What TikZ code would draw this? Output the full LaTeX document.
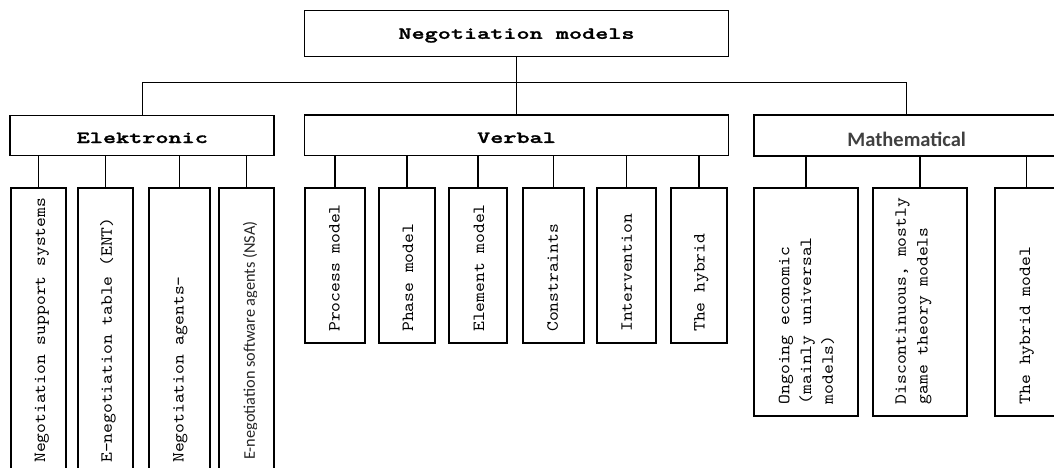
\documentclass[tikz,border=0pt]{standalone}
\usepackage{fontspec}
% typewriter faces, widened to Courier-like proportions
\newfontfamily\leaffont{lmmono10-regular}[Extension=.otf, FakeStretch=1.1]
\newfontfamily\headfont{lmmonolt10-bold}[Extension=.otf, FakeStretch=1.47, FakeBold=1.6]
\newfontfamily\calfont{Carlito}
\begin{document}
\begin{tikzpicture}[x=1pt,y=-1pt,
  box/.style={draw=black, line width=1.8pt, rectangle, inner sep=0pt, fill=white},
  link/.style={draw=black, line width=1.4pt},
  head/.style={font=\headfont\fontsize{17}{20}\selectfont, text depth=0pt},
  leaf/.style={rotate=90, anchor=west, inner sep=0pt, align=left,
    font=\leaffont\fontsize{17}{21.8}\selectfont},
  leafone/.style={leaf, text height=10.4pt, text depth=0pt},
  ebox/.style={box, minimum height=286.3pt},
  vbox/.style={box, minimum height=155pt},
  mbox/.style={box, minimum height=228pt}
]
\useasboundingbox (0,0) rectangle (1054,468);
\fill[white] (0,0) rectangle (1054,468);
\clip (0,0) rectangle (1054,468);

% root and the three families
\node[box, head, text height=10.4pt, minimum width=424pt, minimum height=46pt]
  (top) at (516.5,33.6) {Negotiation models};
\node[box, head, text height=15pt, minimum width=264pt, minimum height=40pt]
  (ele) at (142.3,135.5) {Elektronic};
\node[box, head, text height=15pt, minimum width=424pt, minimum height=40pt]
  (ver) at (516.5,135.4) {Verbal};
\node[box, font=\calfont\bfseries\fontsize{20.5}{24}\selectfont, text=black!75,
  text height=22.2pt, text depth=0pt, minimum width=305pt, minimum height=41pt]
  (mat) at (906.7,135.5) {Mathematical};

\coordinate (bus) at (516.5,82.7);

% electronic models
\node[ebox, minimum width=54.7pt] (e1) at (38.35,330.85) {};
\node[ebox, minimum width=54.7pt] (e2) at (105.65,330.85) {};
\node[ebox, minimum width=61pt]   (e3) at (179.5,330.85) {};
\node[ebox, minimum width=54.7pt] (e4) at (246.65,330.85) {};
\node[leafone] (e1t) at (40,463) {Negotiation support systems};
\node[leafone] (e2t) at (106.7,463) {E-negotiation table (ENT)};
\node[leafone] (e3t) at (178.3,463) {Negotiation agents-};
\begin{scope}
  \clip (219,180) rectangle (256.7,468);
  \node[rotate=90, anchor=west, inner sep=0pt, text=black!85,
    font=\calfont\fontsize{16.3}{19}\selectfont, text height=10.5pt, text depth=0pt]
    (e4t) at (249.7,460) {E-negotiation software agents (NSA)};
\end{scope}

% verbal models
\node[vbox, minimum width=60.3pt] (v1) at (335.15,265.2) {};
\node[vbox, minimum width=56.6pt] (v2) at (407,265.2) {};
\node[vbox, minimum width=57.4pt] (v3) at (478,265.2) {};
\node[vbox, minimum width=61pt]   (v4) at (553.5,265.2) {};
\node[vbox, minimum width=59.3pt] (v5) at (626.35,265.2) {};
\node[vbox, minimum width=56.6pt] (v6) at (699,265.2) {};
\node[leafone] (v1t) at (334.5,332) {Process model};
\node[leafone] (v2t) at (408,332) {Phase model};
\node[leafone] (v3t) at (479,332) {Element model};
\node[leafone] (v4t) at (552.7,332) {Constraints};
\node[leafone] (v5t) at (626.7,332) {Intervention};
\node[leafone] (v6t) at (699.3,332) {The hybrid};

% mathematical models
\node[mbox, minimum width=103.4pt] (m1) at (806,301.7) {};
\node[mbox, minimum width=94.6pt]  (m2) at (920,301.7) {};
\node[mbox, minimum width=62pt]    (m3) at (1026.3,301.7) {};
\node[leaf] (m1t) at (806.5,404.3) {Ongoing economic\\(mainly universal\\models)};
\node[leaf] (m2t) at (913.5,404.3) {Discontinuous, mostly\\game theory models};
\node[leafone] (m3t) at (1025,404.3) {The hybrid model};

% connectors
\draw[link] (top.south) -- (ver.north);
\draw[link] (ele.north) -- (ele.north |- bus) -- (mat.north |- bus) -- (mat.north);
\foreach \c in {e1,e2,e3,e4} \draw[link] (ele.south -| \c.north) -- (\c.north);
\foreach \c in {v1,v2,v3,v4,v5,v6} \draw[link] (ver.south -| \c.north) -- (\c.north);
\foreach \c in {m1,m2,m3} \draw[link] (mat.south -| \c.north) -- (\c.north);
\end{tikzpicture}
\end{document}
